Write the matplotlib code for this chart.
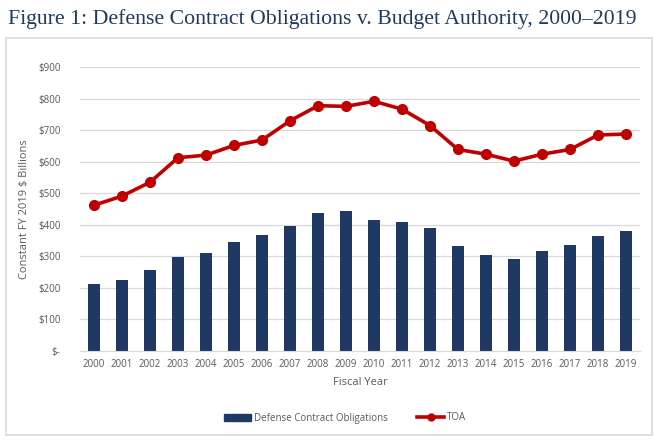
import matplotlib.pyplot as plt
import matplotlib.patches as mpatches
from matplotlib.lines import Line2D
from matplotlib.ticker import FuncFormatter

years = [str(y) for y in range(2000, 2020)]
contract_obligations = [212, 225, 255, 298, 311, 344, 367, 395, 437, 444,
                        414, 409, 391, 332, 303, 291, 316, 335, 364, 381]
toa = [462, 491, 535, 613, 621, 652, 669, 730, 778, 776,
       792, 767, 715, 639, 624, 602, 624, 639, 685, 688]

bar_color = '#1F3864'
line_color = '#C00000'
text_gray = '#595959'

fig = plt.figure(figsize=(6.6, 4.41), dpi=100)

# frame round the chart
fig.patches.append(mpatches.Rectangle((6 / 660, 1 - 435 / 441), 646 / 660, 397 / 441,
                                      transform=fig.transFigure, fill=False,
                                      edgecolor='#D9D9D9', linewidth=1.2))

fig.text(8 / 660, 1 - 24 / 441, 'Figure 1: Defense Contract Obligations v. Budget Authority, 2000\u20132019',
         family='Liberation Serif', fontsize=15.7, color='#1F3B5C', va='baseline', ha='left')

ax = fig.add_axes([80 / 660, 1 - 350.7 / 441, 560 / 660, 283.4 / 441])

x = range(len(years))
ax.bar(x, contract_obligations, width=0.4, color=bar_color, zorder=2)
ax.plot(x, toa, color=line_color, linewidth=2.6, marker='o', markersize=7, zorder=3)

ax.set_xlim(-0.5, len(years) - 0.5)
ax.set_ylim(0, 900)
ax.set_yticks(range(0, 1000, 100))
ax.yaxis.set_major_formatter(FuncFormatter(lambda v, p: '$-' if v == 0 else f'${int(v)}'))
ax.set_xticks(list(x))
ax.set_xticklabels(years)

ax.grid(axis='y', color='#D9D9D9', linewidth=0.9, zorder=0)
ax.set_axisbelow(True)
for side in ['top', 'right', 'left']:
    ax.spines[side].set_visible(False)
ax.spines['bottom'].set_color('#D9D9D9')
ax.tick_params(axis='both', length=0, labelsize=7, labelcolor=text_gray, pad=6)
ax.tick_params(axis='y', pad=14)
for lbl in ax.get_xticklabels() + ax.get_yticklabels():
    lbl.set_family('Open Sans')

ax.set_xlabel('Fiscal Year', fontsize=8, color=text_gray, family='Open Sans', labelpad=5)
ax.set_ylabel('Constant FY 2019 $ Billions', fontsize=8, color=text_gray, family='Open Sans', labelpad=6)

handles = [mpatches.Patch(color=bar_color, label='Defense Contract Obligations'),
           Line2D([], [], color=line_color, linewidth=2.6, marker='o', markersize=5, label='TOA')]
leg = fig.legend(handles=handles, loc='center', bbox_to_anchor=(345 / 660, 1 - 418 / 441),
                 ncol=2, frameon=False, prop={'family': 'Open Sans', 'size': 7},
                 handlelength=2.8, handletextpad=0.3, columnspacing=3)
for t in leg.get_texts():
    t.set_color(text_gray)

fig.savefig('out.png', dpi=100)
